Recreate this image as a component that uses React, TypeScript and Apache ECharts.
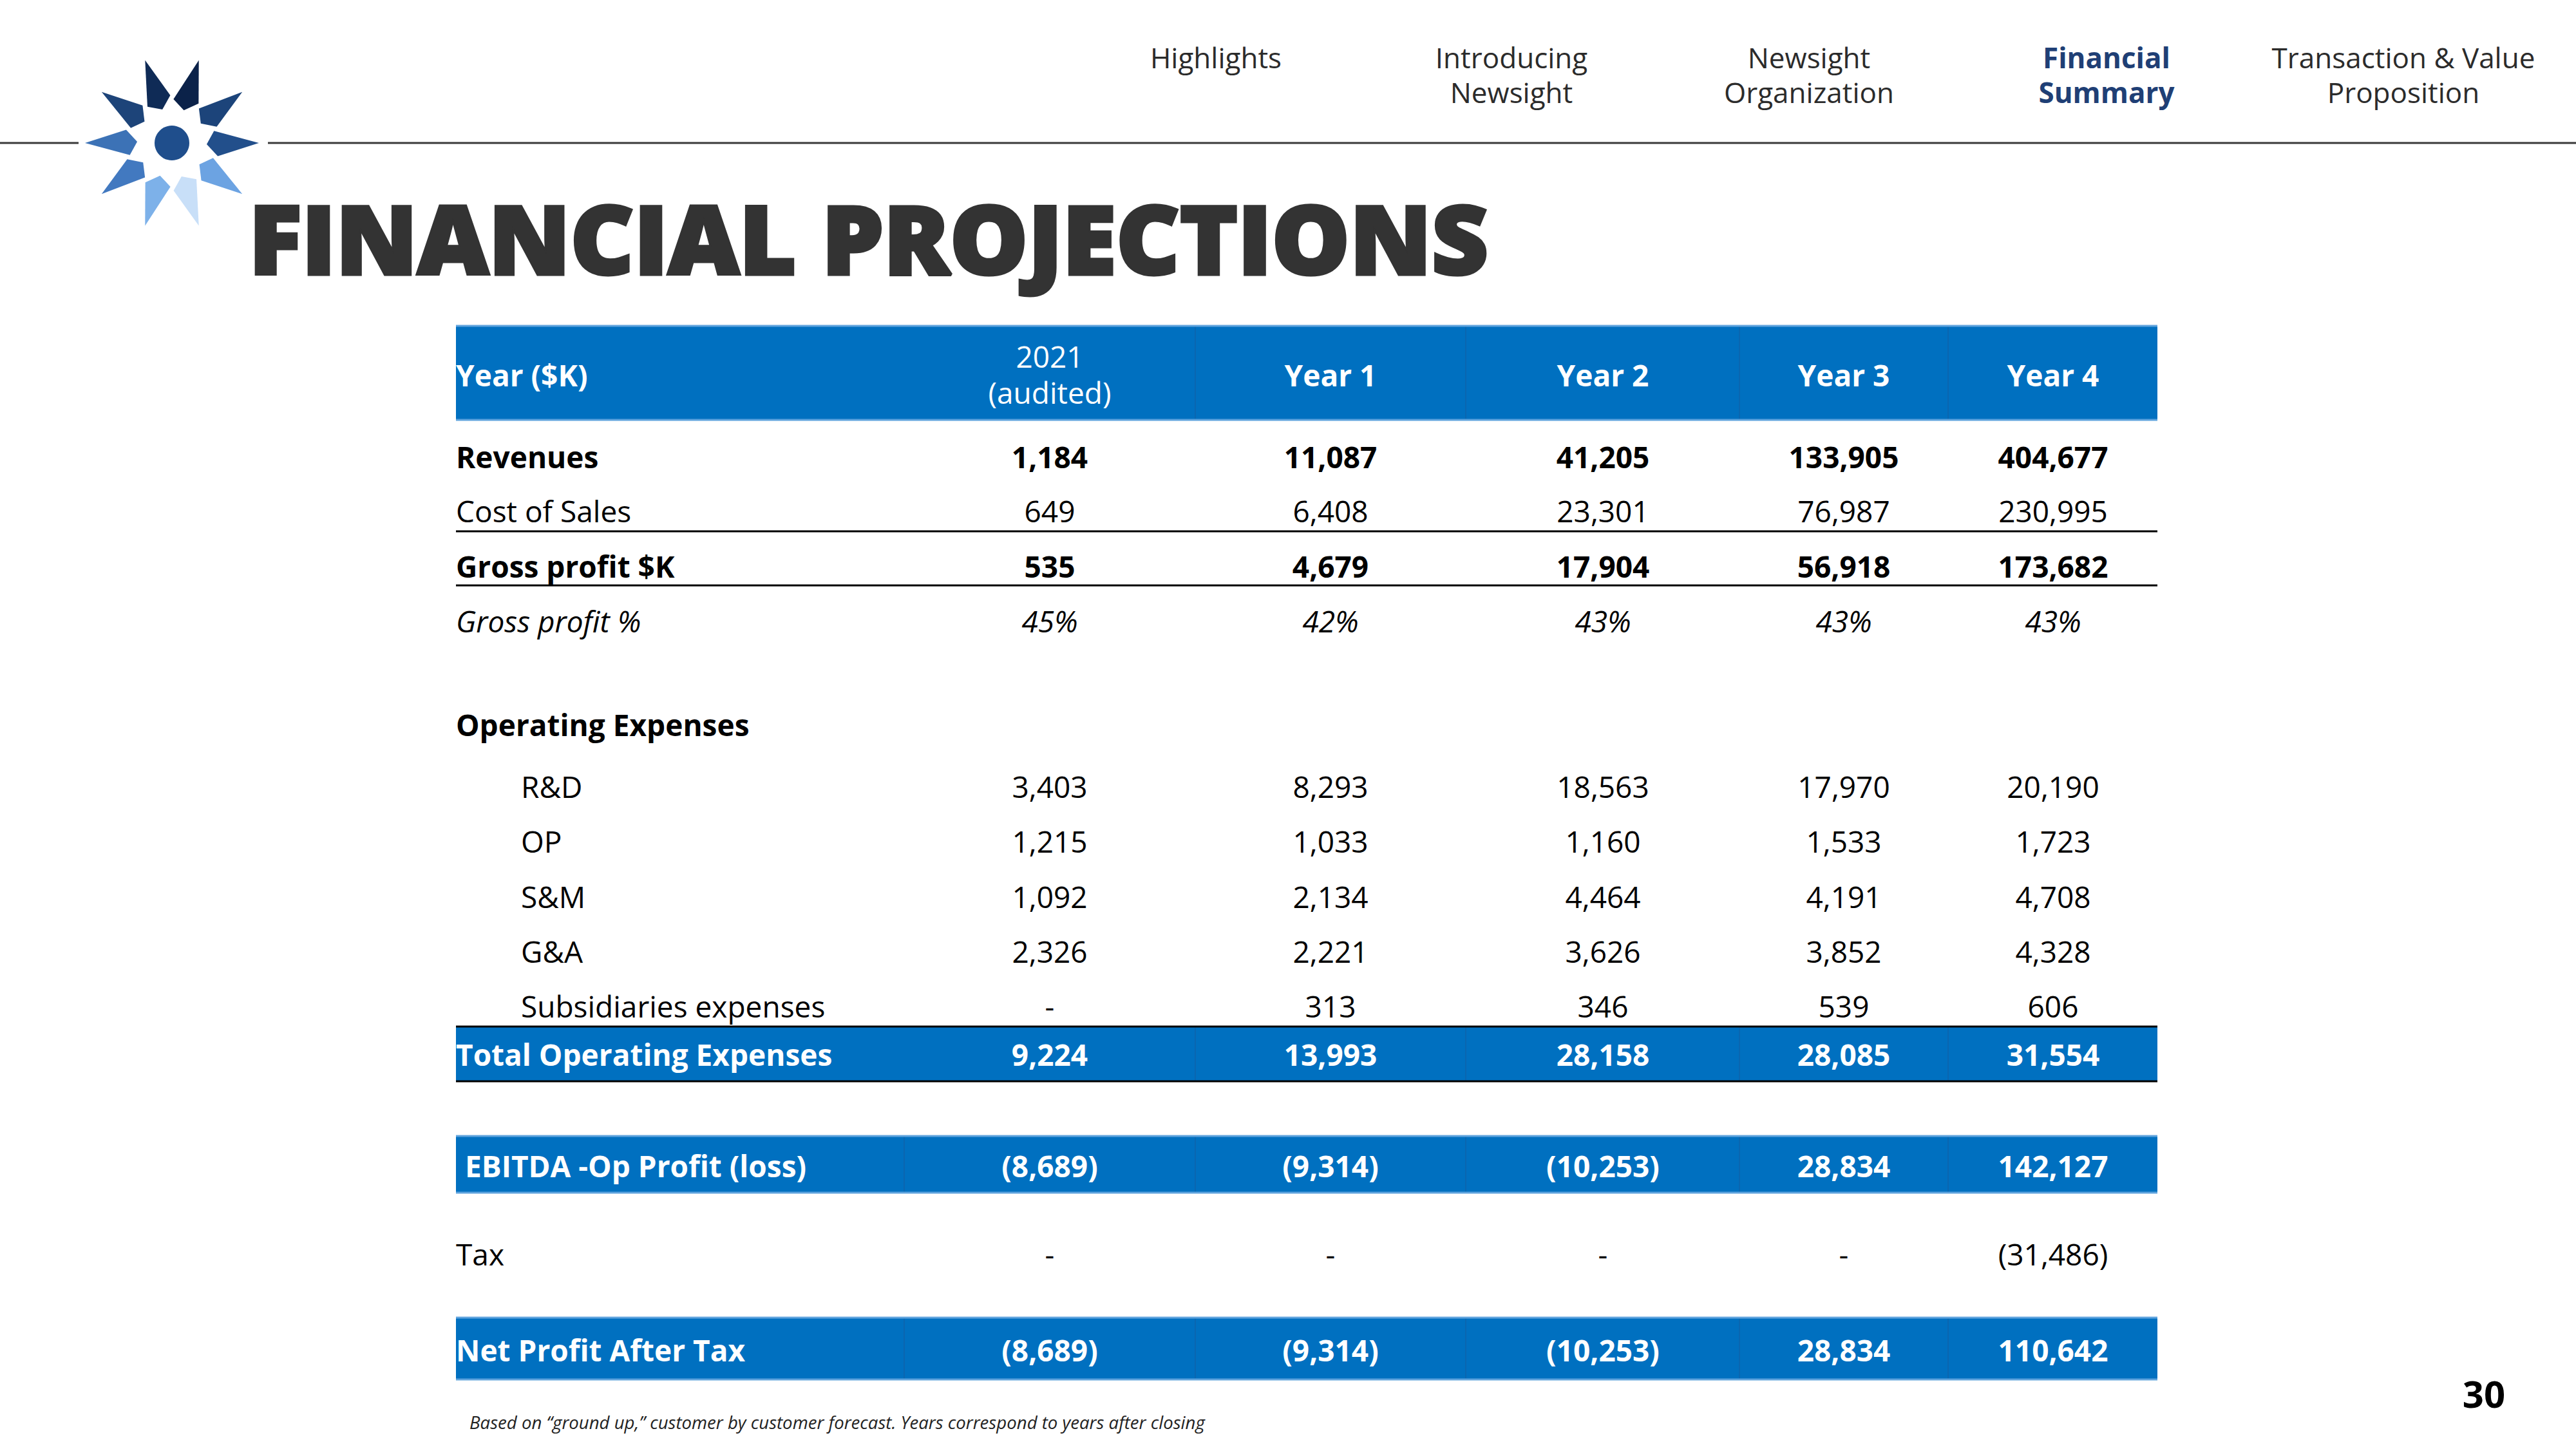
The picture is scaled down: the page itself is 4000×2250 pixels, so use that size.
import React, { useEffect, useRef } from "react";
import * as echarts from "echarts";

// ---------- content ----------
const navItems = ["Highlights", "Introducing\nNewsight", "Newsight\nOrganization", "Financial\nSummary", "Transaction & Value\nProposition"];
const activeNav = 3;
const titleText = "FINANCIAL PROJECTIONS";
const headerLabel = "Year ($K)";
const columnHeaders = ["2021\n(audited)", "Year 1", "Year 2", "Year 3", "Year 4"];

const revenues = [1184, 11087, 41205, 133905, 404677];
const costOfSales = [649, 6408, 23301, 76987, 230995];
const grossProfit = [535, 4679, 17904, 56918, 173682];
const grossProfitPct = [45, 42, 43, 43, 43];
const rnd = [3403, 8293, 18563, 17970, 20190];
const op = [1215, 1033, 1160, 1533, 1723];
const sm = [1092, 2134, 4464, 4191, 4708];
const ga = [2326, 2221, 3626, 3852, 4328];
const subsidiaries = [0, 313, 346, 539, 606];
const totalOpex = [9224, 13993, 28158, 28085, 31554];
const ebitda = [-8689, -9314, -10253, 28834, 142127];
const tax = [0, 0, 0, 0, -31486];
const netProfit = [-8689, -9314, -10253, 28834, 110642];

const footnote = "Based on \u201Cground up,\u201D customer by customer forecast. Years correspond to years after closing";
const pageNumber = "30";

// ---------- layout ----------
const FONT = "Open Sans";
const TABLE_LEFT = 708;
const TABLE_RIGHT = 3350;
const INDENT_X = 809;
const COL_CENTERS = [1630, 2066, 2489, 2863, 3188];
const COL_DIVIDERS = [1856, 2276, 2701, 3025];
const NAV_X = [1888, 2347, 2809, 3271, 3732];
const TITLE_LEFT = 384;
const TITLE_WIDTH = 1930;
const TITLE_SIZE = 148;
const TITLE_STROKE = 5;

const BLUE = "#0070C0";
const BLUE_EDGE = "#5FA3DD";
const DIVIDER = "#0A66B0";

function fmt(v: number): string {
  if (v === 0) return "-";
  const s = Math.abs(v).toLocaleString("en-US");
  return v < 0 ? "(" + s + ")" : s;
}

type Row = { label: string; values: string[]; kind: string; y: number };

const rows: Row[] = [
  { label: "Revenues", values: revenues.map(fmt), kind: "bold", y: 709 },
  { label: "Cost of Sales", values: costOfSales.map(fmt), kind: "plain", y: 793 },
  { label: "Gross profit $K", values: grossProfit.map(fmt), kind: "bold", y: 879 },
  { label: "Gross profit %", values: grossProfitPct.map((v) => v + "%"), kind: "italic", y: 964 },
  { label: "Operating Expenses", values: [], kind: "bold", y: 1125 },
  { label: "R&D", values: rnd.map(fmt), kind: "indent", y: 1221 },
  { label: "OP", values: op.map(fmt), kind: "indent", y: 1306 },
  { label: "S&M", values: sm.map(fmt), kind: "indent", y: 1392 },
  { label: "G&A", values: ga.map(fmt), kind: "indent", y: 1477 },
  { label: "Subsidiaries expenses", values: subsidiaries.map(fmt), kind: "indent", y: 1562 },
  { label: "Total Operating Expenses", values: totalOpex.map(fmt), kind: "white", y: 1637 },
  { label: "EBITDA -Op Profit (loss)", values: ebitda.map(fmt), kind: "whiteIndent", y: 1810 },
  { label: "Tax", values: tax.map(fmt), kind: "plain", y: 1947 },
  { label: "Net Profit After Tax", values: netProfit.map(fmt), kind: "white", y: 2096 },
];

function measure(text: string, font: string): number {
  const c = document.createElement("canvas").getContext("2d");
  if (!c) return 0;
  c.font = font;
  return c.measureText(text).width;
}

function txt(text: string, x: number, y: number, o: any = {}) {
  const align = o.align || "left";
  const va = o.va || "middle";
  const style: any = {
    text,
    fill: o.fill || "#000000",
    fontFamily: o.family || FONT,
    fontSize: o.size || 46,
    fontWeight: o.weight || "normal",
    fontStyle: o.style || "normal",
    align,
    verticalAlign: va,
    textAlign: align,
    textVerticalAlign: va,
  };
  if (o.stroke) {
    style.stroke = o.stroke;
    style.lineWidth = o.lineWidth;
  }
  return {
    type: "text",
    x,
    y,
    z: 10,
    silent: true,
    scaleX: o.scaleX || 1,
    style,
  };
}

function hline(x1: number, x2: number, y: number, stroke: string, w: number) {
  return { type: "line", z: 5, silent: true, shape: { x1, y1: y, x2, y2: y }, style: { stroke, lineWidth: w } };
}
function vline(x: number, y1: number, y2: number, stroke: string, w: number) {
  return { type: "line", z: 4, silent: true, shape: { x1: x, y1, x2: x, y2 }, style: { stroke, lineWidth: w } };
}
function band(y1: number, y2: number, edge: string, dividers: number[]) {
  const els: any[] = [
    { type: "rect", z: 2, silent: true, shape: { x: TABLE_LEFT, y: y1, width: TABLE_RIGHT - TABLE_LEFT, height: y2 - y1 }, style: { fill: BLUE } },
  ];
  dividers.forEach((d) => els.push(vline(d, y1, y2, DIVIDER, 2)));
  els.push(hline(TABLE_LEFT, TABLE_RIGHT, y1, edge, 3));
  els.push(hline(TABLE_LEFT, TABLE_RIGHT, y2, edge, 3));
  return els;
}

// logo: ten-point star
const LOGO_CX = 267;
const LOGO_CY = 222;
const logoColors = ["#0B2249", "#1C447A", "#224F8B", "#6CA3E2", "#C8DFF8", "#7DB1E9", "#4279C0", "#3C72B6", "#1D4479", "#0F2B56"];

function logoElements() {
  const els: any[] = [];
  for (let i = 0; i < 10; i++) {
    const th = ((18 + 36 * i) * Math.PI) / 180;
    const pt = (r: number, a: number) => {
      const t = th + (a * Math.PI) / 180;
      return [LOGO_CX + r * Math.sin(t), LOGO_CY - r * Math.cos(t)];
    };
    els.push({
      type: "polygon",
      z: 3,
      silent: true,
      shape: { points: [pt(135, 0), pt(74, 16), pt(54, 2), pt(68, -16)] },
      style: { fill: logoColors[i] },
    });
  }
  els.push({ type: "circle", z: 3, silent: true, shape: { cx: LOGO_CX, cy: LOGO_CY, r: 27 }, style: { fill: "#1F4E8C" } });
  return els;
}

function buildElements() {
  const els: any[] = [];
  // top rule
  els.push(hline(0, 122, 222, "#3a3a3a", 3));
  els.push(hline(416, 4000, 222, "#3a3a3a", 3));
  els.push(...logoElements());

  // nav
  navItems.forEach((item, i) => {
    const lines = item.split("\n");
    lines.forEach((ln, j) => {
      els.push(
        txt(ln, NAV_X[i], 89 + j * 54, {
          align: "center",
          size: 44,
          fill: i === activeNav ? "#1F3F75" : "#2B2B2B",
          weight: i === activeNav ? "bold" : "normal",
        })
      );
    });
  });

  // title (horizontally fitted to the reference width)
  const tw = measure(titleText, "800 " + TITLE_SIZE + "px 'Open Sans'");
  const sx = tw > 0 ? TITLE_WIDTH / (tw + TITLE_STROKE) : 1;
  els.push(
    txt(titleText, TITLE_LEFT + TITLE_STROKE / 2, 369, {
      size: TITLE_SIZE,
      weight: 800,
      family: FONT,
      fill: "#333333",
      stroke: "#333333",
      lineWidth: TITLE_STROKE,
      scaleX: sx,
    })
  );

  // header band
  els.push(...band(506, 652, BLUE_EDGE, COL_DIVIDERS));
  els.push(txt(headerLabel, TABLE_LEFT, 582, { fill: "#ffffff", weight: "bold" }));
  columnHeaders.forEach((h, c) => {
    const parts = h.split("\n");
    if (parts.length > 1) {
      parts.forEach((p, j) => els.push(txt(p, COL_CENTERS[c], 553 + j * 56, { fill: "#ffffff", align: "center" })));
    } else {
      els.push(txt(h, COL_CENTERS[c], 582, { fill: "#ffffff", align: "center", weight: "bold" }));
    }
  });

  // rules around gross profit
  els.push(hline(TABLE_LEFT, TABLE_RIGHT, 825, "#000000", 3));
  els.push(hline(TABLE_LEFT, TABLE_RIGHT, 909, "#000000", 3));

  // bands
  els.push(...band(1594, 1679, "#000000", COL_DIVIDERS));
  els.push(...band(1764, 1852, BLUE_EDGE, [1404].concat(COL_DIVIDERS)));
  els.push(...band(2046, 2142, BLUE_EDGE, [1404].concat(COL_DIVIDERS)));

  rows.forEach((r) => {
    const white = r.kind === "white" || r.kind === "whiteIndent";
    const bold = r.kind === "bold" || white;
    const italic = r.kind === "italic";
    const lx = r.kind === "indent" ? INDENT_X : r.kind === "whiteIndent" ? 722 : TABLE_LEFT;
    const o = { fill: white ? "#ffffff" : "#000000", weight: bold ? "bold" : "normal", style: italic ? "italic" : "normal" };
    els.push(txt(r.label, lx, r.y, o));
    r.values.forEach((v, c) => els.push(txt(v, COL_CENTERS[c], r.y, Object.assign({ align: "center" }, o))));
  });

  els.push(txt(footnote, 729, 2208, { size: 27.6, style: "italic", fill: "#222222" }));
  els.push(txt(pageNumber, 3857, 2163, { size: 58, weight: "bold", align: "center" }));
  return els;
}

export default function App() {
  const ref = useRef<HTMLDivElement>(null);
  useEffect(() => {
    document.body.style.margin = "0";
    if (!ref.current) return;
    const chart = echarts.init(ref.current, null, { renderer: "svg", width: 4000, height: 2250 });
    chart.setOption({
      animation: false,
      backgroundColor: "#ffffff",
      graphic: { elements: buildElements() },
    });
    return () => chart.dispose();
  }, []);
  return <div ref={ref} style={{ width: 4000, height: 2250, position: "absolute", left: 0, top: 0 }} />;
}
